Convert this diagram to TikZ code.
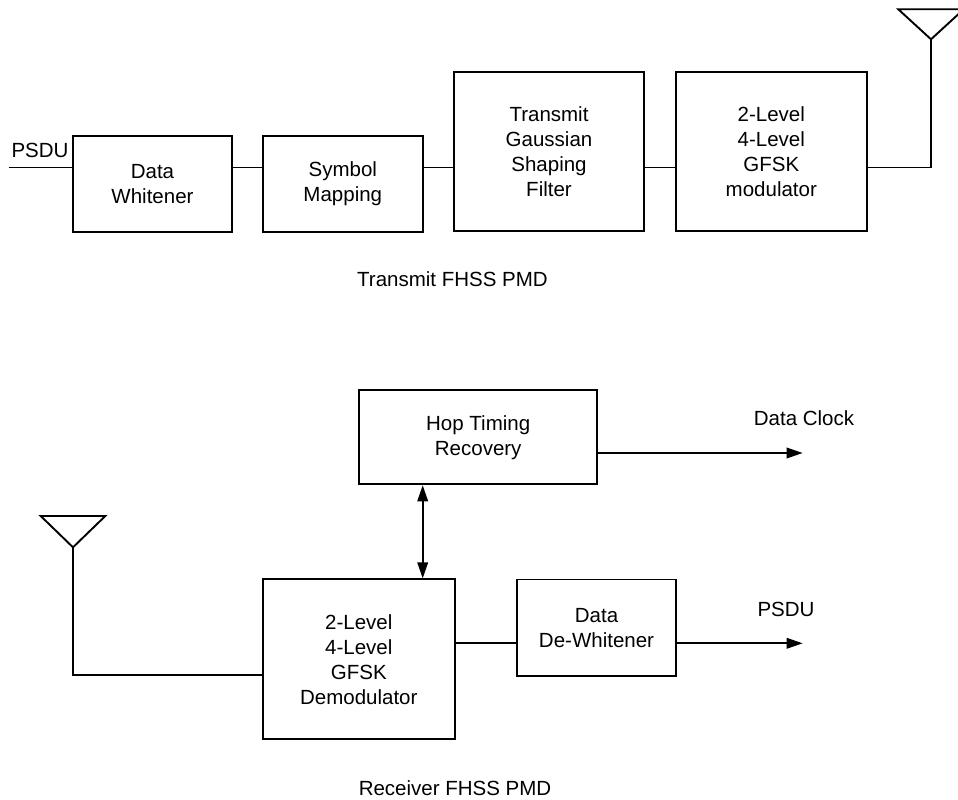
\documentclass[tikz,border=0pt]{standalone}
\usepackage{fontspec}
\setmainfont{Liberation Sans}
\usetikzlibrary{arrows.meta}

\begin{document}
\begin{tikzpicture}[x=1pt,y=-1pt,line width=1.9pt,
    blk/.style={draw,align=center,inner sep=0pt,font=\fontsize{20.5}{25}\selectfont},
    lbl/.style={font=\fontsize{20.5}{25}\selectfont},
    >={Triangle[length=16pt,width=10.5pt]}]
  \useasboundingbox (0,0) rectangle (958,800);

  % transmit chain
  \node[blk,minimum width=159pt,minimum height=96pt] (white) at (152.5,183.7) {Data\\Whitener};
  \node[blk,minimum width=159.5pt,minimum height=96pt] (map) at (342.8,183.7) {Symbol\\Mapping};
  \node[blk,minimum width=190pt,minimum height=158.4pt] (filt) at (549,151.5) {Transmit\\Gaussian\\Shaping\\Filter};
  \node[blk,minimum width=190.7pt,minimum height=158.4pt] (mod) at (771.3,151.5) {2-Level\\4-Level\\GFSK\\modulator};
  \node[lbl] (psdutx) at (40,150.7) {PSDU};
  \node[lbl] (txcap) at (452.5,279) {Transmit FHSS PMD};

  \coordinate (txin) at (9,167.5);
  \coordinate (txant) at (931,39.3);
  \draw (txin) -- (white.west |- txin);
  \draw (white.east |- txin) -- (map.west |- txin);
  \draw (map.east |- txin) -- (filt.west |- txin);
  \draw (filt.east |- txin) -- (mod.west |- txin);
  \draw (mod.east |- txin) -| (txant);
  \draw (txant) -- ++(-32.7,-30) -- ++(65.4,0) -- cycle;

  % receive chain
  \node[blk,minimum width=238.3pt,minimum height=94pt] (hop) at (478.2,437.3) {Hop Timing\\Recovery};
  \node[blk,minimum width=191.7pt,minimum height=159.7pt] (demod) at (358.8,659.2) {2-Level\\4-Level\\GFSK\\Demodulator};
  \node[blk,minimum width=159.6pt,minimum height=96.2pt] (dewhite) at (596.5,627.6) {Data\\De-Whitener};
  \node[lbl] (clklbl) at (804,417.7) {Data Clock};
  \node[lbl] (psdurx) at (786,609) {PSDU};
  \node[lbl] (rxcap) at (455,788) {Receiver FHSS PMD};

  \coordinate (sync) at (422.7,0);
  \coordinate (clk) at (802.7,453);
  \coordinate (rxout) at (802.7,643.3);
  \coordinate (rxin) at (0,675.3);
  \coordinate (rxant) at (73,547.3);
  \draw[<->] (hop.south -| sync) -- (demod.north -| sync);
  \draw[->] (hop.east |- clk) -- (clk);
  \draw (demod.east |- rxout) -- (dewhite.west |- rxout);
  \draw[->] (dewhite.east |- rxout) -- (rxout);
  \draw (rxant) |- (demod.west |- rxin);
  \draw (rxant) -- ++(-32.3,-31.3) -- ++(64.6,0) -- cycle;
\end{tikzpicture}
\end{document}
